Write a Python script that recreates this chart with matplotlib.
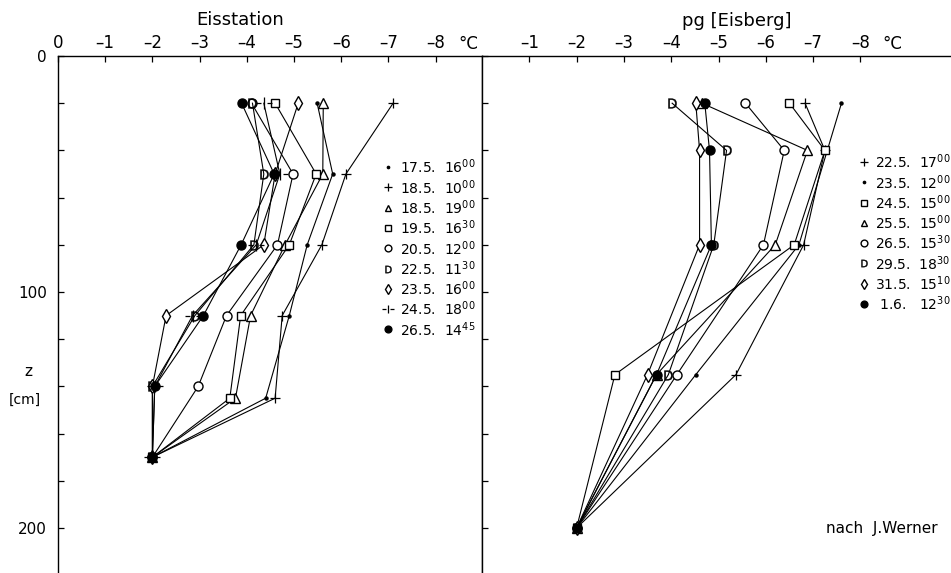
import numpy as np
import matplotlib
matplotlib.use('Agg')
import matplotlib.pyplot as plt
from matplotlib.path import Path

plt.rcParams['font.family'] = 'DejaVu Sans'
plt.rcParams['axes.unicode_minus'] = False

# Eisstation: depth [cm] and temperature [deg C] per profile
eis_labels = ['17.5.  16$^{00}$', '18.5.  10$^{00}$', '18.5.  19$^{00}$', '19.5.  16$^{30}$',
              '20.5.  12$^{00}$', '22.5.  11$^{30}$', '23.5.  16$^{00}$', '24.5.  18$^{00}$',
              '26.5.  14$^{45}$']
eis_depth = [[20, 50, 80, 110, 145, 170],
             [20, 50, 80, 110, 145, 170],
             [20, 50, 80, 110, 145, 170],
             [20, 50, 80, 110, 145, 170],
             [20, 50, 80, 110, 140, 170],
             [20, 50, 80, 110, 140, 170],
             [20, 50, 80, 110, 140, 170],
             [20, 50, 80, 110, 140, 170],
             [20, 50, 80, 110, 140, 170]]
eis_temp = [[-5.49, -5.82, -5.28, -4.9, -4.4, -2.0],
            [-7.1, -6.1, -5.59, -4.75, -4.6, -2.0],
            [-5.62, -5.61, -4.81, -4.08, -3.76, -2.0],
            [-4.6, -5.47, -4.9, -3.87, -3.64, -2.0],
            [-4.1, -4.98, -4.65, -3.57, -2.97, -2.0],
            [-4.12, -4.36, -4.15, -2.9, -2.0, -2.0],
            [-5.09, -4.6, -4.36, -2.29, -2.0, -2.0],
            [-4.36, -4.7, -4.2, -2.85, -2.05, -2.0],
            [-3.89, -4.58, -3.88, -3.08, -2.05, -2.0]]

# pg [Eisberg]
berg_labels = ['22.5.  17$^{00}$', '23.5.  12$^{00}$', '24.5.  15$^{00}$', '25.5.  15$^{00}$',
               '26.5.  15$^{30}$', '29.5.  18$^{30}$', '31.5.  15$^{10}$', ' 1.6.   12$^{30}$']
berg_depth = [20, 40, 80, 135, 200]
berg_temp = [[-6.83, -7.25, -6.8, -5.37, -2.0],
             [-7.6, -7.3, -6.7, -4.52, -2.0],
             [-6.5, -7.25, -6.6, -2.81, -2.0],
             [-4.65, -6.88, -6.2, -3.69, -2.0],
             [-5.57, -6.39, -5.95, -4.12, -2.0],
             [-4.02, -5.17, -4.9, -3.94, -2.0],
             [-4.52, -4.6, -4.6, -3.5, -2.0],
             [-4.71, -4.81, -4.85, -3.69, -2.0]]

# cross with gaps for the "-|-" symbol
gapcross = Path([(-1, 0), (-0.35, 0), (0.35, 0), (1, 0), (0, -0.75), (0, 0.75)],
                [Path.MOVETO, Path.LINETO, Path.MOVETO, Path.LINETO, Path.MOVETO, Path.LINETO])

eis_style = [dict(marker='o', ms=2.2, mfc='k'),
             dict(marker='+', ms=7, mew=0.9),
             dict(marker='^', ms=6.5, mfc='white'),
             dict(marker='s', ms=5.5, mfc='white'),
             dict(marker='o', ms=6.5, mfc='white'),
             dict(marker=r'$\mathsf{D}$', ms=7, mew=0.3),
             dict(marker='d', ms=7, mfc='white'),
             dict(marker=gapcross, ms=11, mew=0.9),
             dict(marker='o', ms=6.5, mfc='k')]
berg_style = [dict(marker='+', ms=7, mew=0.9),
              dict(marker='o', ms=2.2, mfc='k'),
              dict(marker='s', ms=5.5, mfc='white'),
              dict(marker='^', ms=6.5, mfc='white'),
              dict(marker='o', ms=6.5, mfc='white'),
              dict(marker=r'$\mathsf{D}$', ms=7, mew=0.3),
              dict(marker='d', ms=7, mfc='white'),
              dict(marker='o', ms=6.5, mfc='k')]

W, H = 951, 573
fig = plt.figure(figsize=(W / 100, H / 100), dpi=100)
top = 56
ax1 = fig.add_axes([58 / W, 0, 424 / W, (H - top) / H])
ax2 = fig.add_axes([482 / W, 0, (W - 482) / W, (H - top) / H])
zmax = (H - top) / 2.36

for ax, xr in [(ax1, (0, -424 / 47.2)), (ax2, (0, -(W - 482) / 47.3))]:
    ax.set_xlim(*xr)
    ax.set_ylim(zmax, 0)
    ax.xaxis.tick_top()
    ax.spines['bottom'].set_visible(False)
    ax.tick_params(axis='x', direction='in', length=4, width=0.9, labelsize=12, pad=3)
    ax.tick_params(axis='y', which='both', direction='in', length=4, width=0.9)
    for s in ax.spines.values():
        s.set_linewidth(1.0)

ax1.set_xticks(range(0, -9, -1))
ax1.set_xticklabels(['0'] + ['–%d' % i for i in range(1, 9)])
ax2.set_xticks(range(-1, -9, -1))
ax2.set_xticklabels(['–%d' % i for i in range(1, 9)])
ax2.spines['right'].set_visible(False)

ax1.set_yticks([0, 100, 200])
ax1.set_yticklabels(['0', '100', '200'], fontsize=11)
ax1.set_yticks(np.arange(0, 220, 20), minor=True)
ax1.tick_params(axis='y', which='major', pad=8)
ax2.set_yticks(np.arange(0, 220, 20))
ax2.set_yticklabels([])

for z, t, st in zip(eis_depth, eis_temp, eis_style):
    ax1.plot(t, z, color='k', lw=0.8, mec='k', clip_on=False, **st)
for t, st in zip(berg_temp, berg_style):
    ax2.plot(t, berg_depth, color='k', lw=0.8, mec='k', clip_on=False, **st)

# degree labels and titles
fig.text(468 / W, 1 - 44 / H, '°C', ha='center', va='center', fontsize=12)
fig.text(892 / W, 1 - 44 / H, '°C', ha='center', va='center', fontsize=12)
fig.text(240 / W, 1 - 20 / H, 'Eisstation', ha='center', va='center', fontsize=13)
fig.text(737 / W, 1 - 21 / H, 'pg [Eisberg]', ha='center', va='center', fontsize=13)
fig.text(28 / W, 1 - 371 / H, 'z', ha='center', va='center', fontsize=11)
fig.text(25 / W, 1 - 400 / H, '[cm]', ha='center', va='center', fontsize=10)
fig.text(882 / W, 1 - 528 / H, 'nach  J.Werner', ha='center', va='center', fontsize=11)

# hand-drawn style legends
for i, (lab, st) in enumerate(zip(eis_labels, eis_style)):
    y = 1 - (167 + 20.3 * i) / H
    s = dict(st)
    s['ms'] = s['ms'] * 0.75
    ax1.plot([388 / W], [y], transform=fig.transFigure, color='k', mec='k', clip_on=False, ls='none', **s)
    fig.text(400 / W, y, lab, ha='left', va='center', fontsize=10)
for i, (lab, st) in enumerate(zip(berg_labels, berg_style)):
    y = 1 - (162 + 20.3 * i) / H
    s = dict(st)
    s['ms'] = s['ms'] * 0.75
    ax2.plot([864 / W], [y], transform=fig.transFigure, color='k', mec='k', clip_on=False, ls='none', **s)
    fig.text(875 / W, y, lab, ha='left', va='center', fontsize=10)

fig.savefig('out.png', dpi=100)
